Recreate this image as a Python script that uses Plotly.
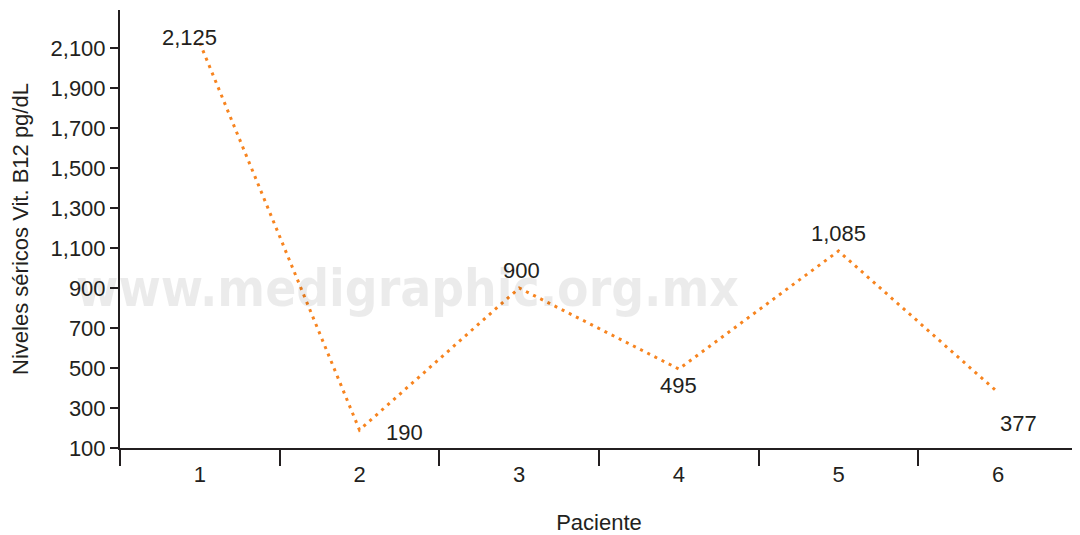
import plotly.graph_objects as go

pacientes = ["1", "2", "3", "4", "5", "6"]
niveles = [2125, 190, 900, 495, 1085, 377]
etiquetas = ["2,125", "190", "900", "495", "1,085", "377"]
y_ticks = [100, 300, 500, 700, 900, 1100, 1300, 1500, 1700, 1900, 2100]
y_tick_labels = ["100", "300", "500", "700", "900", "1,100", "1,300", "1,500", "1,700", "1,900", "2,100"]

# label offsets (style only), in pixels
label_dx = [-10, 45, 2, 0, 0, 20]
label_dy = [6, -2, 18, -16, 18, -31]

FONT = "Liberation Sans, Arial, sans-serif"
AXC = "#231f20"

fig = go.Figure()
fig.add_trace(go.Scatter(
    x=pacientes, y=niveles, mode="lines",
    line=dict(color="#f7841f", width=3, dash="3px,5px"),
    hoverinfo="skip", showlegend=False,
))

for i, (yv, lab, dx, dy) in enumerate(zip(niveles, etiquetas, label_dx, label_dy)):
    fig.add_annotation(
        x=i, y=yv, text=lab, showarrow=False, xanchor="center", yanchor="middle",
        xshift=dx, yshift=dy, font=dict(family=FONT, size=22, color=AXC),
    )

fig.add_annotation(
    text="www.medigraphic.org.mx", xref="paper", yref="paper",
    x=0.30, y=0.365, xanchor="center", yanchor="middle", showarrow=False,
    font=dict(family="Liberation Sans Narrow, DejaVu Sans Condensed, Liberation Sans, sans-serif",
              size=51, color="rgba(0,0,0,0.08)", weight="bold"),
)

fig.update_layout(
    width=1072, height=527,
    margin=dict(l=112, r=2, t=2, b=87),
    paper_bgcolor="white", plot_bgcolor="white",
    font=dict(family=FONT, size=22, color=AXC),
    xaxis=dict(
        type="category", tickson="boundaries", ticks="outside", ticklen=16, tickwidth=2,
        tickcolor=AXC, showline=True, linecolor=AXC, linewidth=2, showgrid=False,
        zeroline=False, tickfont=dict(size=22, color=AXC), range=[-0.5, 5.5],
        ticklabelstandoff=6,
        title=dict(text="Paciente", font=dict(size=22, color=AXC), standoff=28),
    ),
    yaxis=dict(
        range=[100, 2290], tickvals=y_ticks, ticktext=y_tick_labels,
        ticks="outside", ticklen=8, tickwidth=2, tickcolor=AXC,
        showline=True, linecolor=AXC, linewidth=2, showgrid=False, zeroline=False,
        tickfont=dict(size=22, color=AXC),
        title=dict(text="Niveles séricos Vit. B12 pg/dL", font=dict(size=22, color=AXC), standoff=16),
    ),
)

fig.write_html("out.html")
